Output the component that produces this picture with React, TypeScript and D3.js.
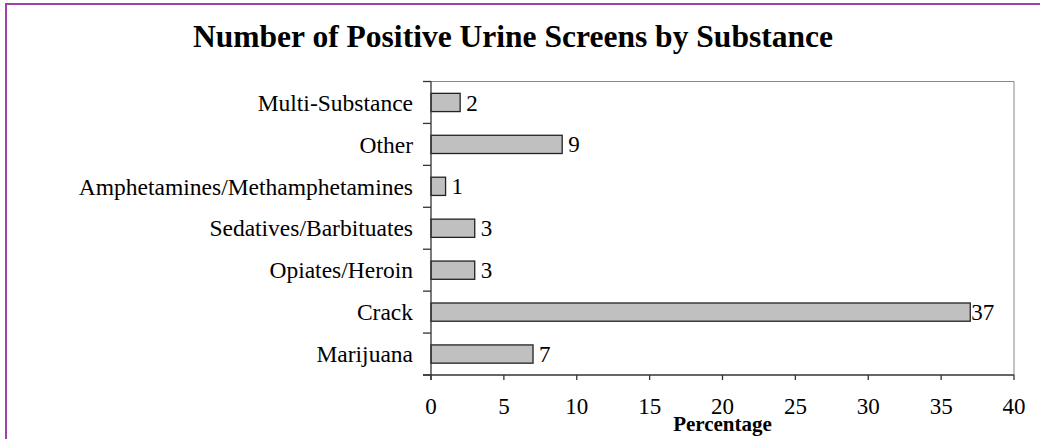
import React from "react";
import * as d3 from "d3";

const categories = [
  "Multi-Substance",
  "Other",
  "Amphetamines/Methamphetamines",
  "Sedatives/Barbituates",
  "Opiates/Heroin",
  "Crack",
  "Marijuana",
];
const values = [2, 9, 1, 3, 3, 37, 7];
const xTicks = [0, 5, 10, 15, 20, 25, 30, 35, 40];
const title = "Number of Positive Urine Screens by Substance";
const xTitle = "Percentage";

export default function App() {
  const W = 1040, H = 439;
  const left = 431, right = 1014, top = 81.5, bottom = 375;
  const x = d3.scaleLinear().domain([0, 40]).range([left, right]);
  const y = d3.scaleBand().domain(categories).range([top, bottom]).paddingInner(0.565).paddingOuter(0.2825);
  const yb = d3.scaleBand().domain(categories).range([top, bottom]);
  const font = "'Liberation Serif', 'Times New Roman', serif";
  return (
    <svg width={W} height={H} style={{ position: "absolute", left: 0, top: 0, background: "#fff" }} fontFamily={font}>
      <rect x={0} y={0} width={W} height={H} fill="#fff" />
      <rect x={6} y={4} width={W + 10} height={H + 10} fill="none" stroke="#a040a8" strokeWidth={2} />
      <text x={513} y={47} textAnchor="middle" fontSize={31} fontWeight="bold" textLength={640} lengthAdjust="spacingAndGlyphs">{title}</text>
      {/* plot border */}
      <line x1={left} x2={right} y1={top} y2={top} stroke="#888" strokeWidth={1} />
      <line x1={right} x2={right} y1={top} y2={bottom} stroke="#888" strokeWidth={1} />
      {/* bars */}
      {categories.map((c, i) => (
        <g key={c}>
          <rect x={x(0)} y={y(c)!} width={x(values[i]) - x(0)} height={y.bandwidth()} fill="#c0c0c0" stroke="#222" strokeWidth={1.3} />
          <text x={x(values[i]) + (values[i] >= 10 ? 1 : 6)} y={y(c)! + y.bandwidth() / 2} dy="0.35em" fontSize={23}>{values[i]}</text>
          <text x={413} y={yb(c)! + yb.bandwidth() / 2} dy="0.35em" fontSize={23.5} textAnchor="end">{c}</text>
        </g>
      ))}
      {/* y axis */}
      <line x1={left} x2={left} y1={top} y2={bottom + 5} stroke="#333" strokeWidth={1.3} />
      {[...categories.map((c) => yb(c)!), bottom].map((v, i) => (
        <line key={i} x1={left - 8} x2={left} y1={v} y2={v} stroke="#333" strokeWidth={1.3} />
      ))}
      {/* x axis */}
      <line x1={left - 8} x2={right} y1={bottom} y2={bottom} stroke="#333" strokeWidth={1.3} />
      {xTicks.map((t) => (
        <g key={t}>
          <line x1={x(t)} x2={x(t)} y1={bottom} y2={bottom + 5} stroke="#333" strokeWidth={1.3} />
          <text x={x(t)} y={406} dy="0.35em" textAnchor="middle" fontSize={23}>{t}</text>
        </g>
      ))}
      <text x={(left + right) / 2} y={431} textAnchor="middle" fontSize={21} fontWeight="bold">{xTitle}</text>
    </svg>
  );
}
